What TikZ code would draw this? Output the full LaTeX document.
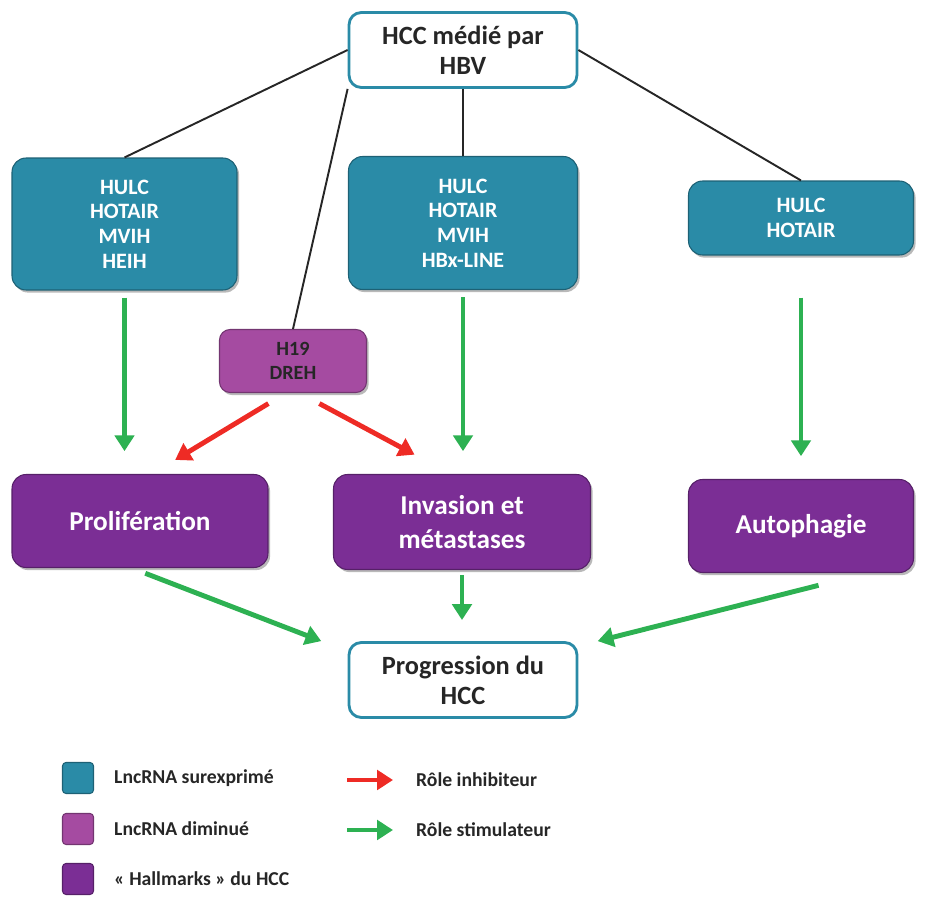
\documentclass[tikz,border=0pt]{standalone}
\usepackage{fontspec}
\setmainfont{Carlito}
\usetikzlibrary{arrows.meta,shadows}

\definecolor{upteal}{HTML}{2A8BA7}
\definecolor{downpink}{HTML}{A54BA1}
\definecolor{hallpurple}{HTML}{7B2E95}
\definecolor{stimgreen}{HTML}{2DB152}
\definecolor{inhibred}{HTML}{EE2B25}
\definecolor{textgray}{HTML}{262626}

\begin{document}
\begin{tikzpicture}[x=0.02cm, y=-0.02cm, font=\bfseries,
    upbox/.style={draw=upteal!70!black, line width=0.6pt, fill=upteal, rounded corners=8pt,
      text=white, align=center, minimum width=4.5cm, font=\bfseries\fontsize{12.5}{14}\selectfont,
      drop shadow={shadow xshift=1.2pt, shadow yshift=-1.5pt, opacity=0.55}},
    downbox/.style={draw=downpink!70!black, line width=0.6pt, fill=downpink, rounded corners=6pt,
      text=textgray, align=center, minimum width=2.94cm, minimum height=1.26cm,
      font=\bfseries\fontsize{11.5}{14}\selectfont,
      drop shadow={shadow xshift=1.2pt, shadow yshift=-1.5pt, opacity=0.55}},
    hallbox/.style={draw=hallpurple!70!black, line width=0.6pt, fill=hallpurple, rounded corners=8pt,
      text=white, align=center, minimum height=1.86cm, font=\bfseries\fontsize{15.5}{19}\selectfont,
      drop shadow={shadow xshift=1.2pt, shadow yshift=-1.5pt, opacity=0.55}},
    endbox/.style={draw=upteal, line width=1.6pt, fill=white, rounded corners=7pt,
      text=textgray, align=center, minimum width=4.56cm, minimum height=1.5cm,
      font=\bfseries\fontsize{15}{17}\selectfont},
    keybox/.style={draw=#1!70!black, line width=0.6pt, fill=#1, rounded corners=2pt,
      minimum size=0.62cm, inner sep=0pt},
    link/.style={line width=1.1pt, black!85},
    stim/.style={line width=2.8pt, stimgreen, -{Triangle[length=9pt,width=11pt]}},
    inhib/.style={line width=2.8pt, inhibred, -{Triangle[length=9pt,width=11pt]}},
    keytext/.style={anchor=west, text=textgray, font=\bfseries\fontsize{11.2}{12}\selectfont}]

    % Fix the page to the reference frame
    \useasboundingbox (0,0) rectangle (938,898);

    % Top node
    \node[endbox] (hbv) at (463,50) {HCC médié par\\HBV};

    % Over-expressed lncRNAs
    \node[upbox, minimum height=2.64cm] (leftup) at (124.5,224) {HULC\\HOTAIR\\MVIH\\HEIH};
    \node[upbox, minimum width=4.58cm, minimum height=2.66cm] (midup) at (463,223) {HULC\\HOTAIR\\MVIH\\HBx-LINE};
    \node[upbox, minimum height=1.48cm] (rightup) at (801,218) {HULC\\HOTAIR};

    % Down-regulated lncRNAs
    \node[downbox] (h19) at (293,361) {H19\\DREH};

    % Hallmarks
    \node[hallbox, minimum width=5.12cm] (prolif) at (140,521) {Prolifération};
    \node[hallbox, minimum width=5.14cm, minimum height=1.9cm] (invasion) at (462,522) {Invasion et\\métastases};
    \node[hallbox, minimum width=4.5cm] (autoph) at (801,526) {Autophagie};

    % Final node
    \node[endbox] (progress) at (463,680) {Progression du\\HCC};

    % Black links from the top node
    \draw[link] (hbv.west) -- (leftup.north);
    \draw[link] (hbv.east) -- (rightup.north);
    \draw[link] (hbv.south) -- (midup.north);
    \draw[link] (hbv.south west) -- (h19.north);

    % Stimulating arrows
    \draw[stim, shorten <=4pt, shorten >=13pt] (leftup.south) -- (leftup.south |- prolif.north);
    \draw[stim, shorten <=4pt, shorten >=13pt] (midup.south) -- (midup.south |- invasion.north);
    \draw[stim, shorten <=24pt, shorten >=13pt] (rightup.south) -- (rightup.south |- autoph.north);
    \draw[stim] ([xshift=3pt,yshift=-3pt]prolif.south) -- ([xshift=-15pt]progress.north west);
    \draw[stim, shorten <=3pt, shorten >=12pt] (invasion.south) -- (invasion.south |- progress.north);
    \draw[stim] ([xshift=10pt,yshift=-7pt]autoph.south) -- ([xshift=11pt]progress.north east);

    % Inhibiting arrows
    \draw[inhib] ([xshift=-14pt,yshift=-6pt]h19.south) -- ([xshift=20pt,yshift=8pt]prolif.north);
    \draw[inhib] ([xshift=15pt,yshift=-6pt]h19.south) -- ([xshift=-27pt,yshift=11pt]invasion.north);

    % Legend
    \node[keybox=upteal] (keyup) at (78,778) {};
    \node[keybox=downpink] (keydown) at (78,829) {};
    \node[keybox=hallpurple] (keyhall) at (78,879) {};
    \node[keytext] (keyuptext) at (108,778) {LncRNA surexprimé};
    \node[keytext] (keydowntext) at (108,829) {LncRNA diminué};
    \node[keytext] (keyhalltext) at (108,879) {« Hallmarks » du HCC};

    \coordinate (inhibstart) at (347,780);
    \coordinate (stimstart) at (347,830);
    \node[keytext] (inhibtext) at (410,780) {Rôle inhibiteur};
    \node[keytext] (stimtext) at (410,830) {Rôle stimulateur};
    \draw[inhib] (inhibstart) -- (inhibtext.west -| 393,0);
    \draw[stim] (stimstart) -- (stimtext.west -| 393,0);
\end{tikzpicture}
\end{document}
